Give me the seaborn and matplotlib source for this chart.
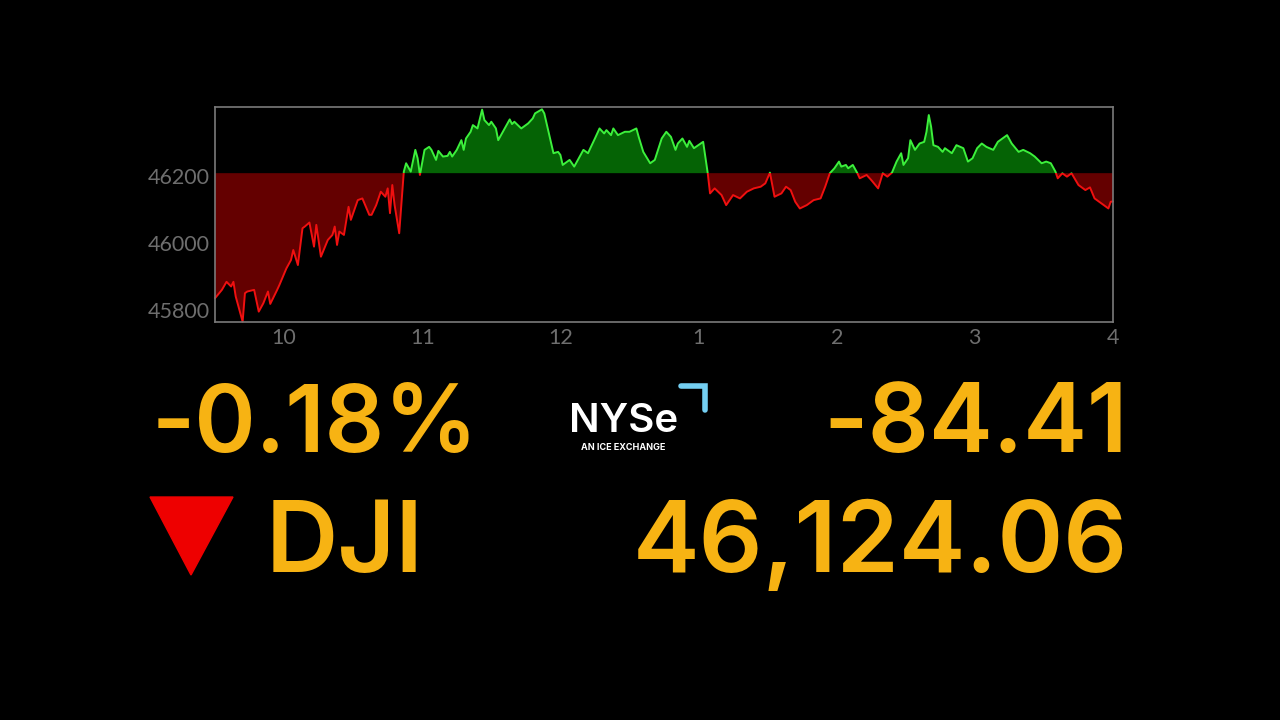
import numpy as np
import pandas as pd
import seaborn as sns
import matplotlib.pyplot as plt
from matplotlib.patches import Rectangle, Polygon

# minutes after 9:30 open, DJI level
minutes = [0, 3, 5, 7, 8, 9, 12, 13, 14, 17, 19, 21, 23, 24, 27, 28, 31, 33, 34, 36,
           38, 39, 41, 43, 44, 46, 49, 51, 52, 53, 54, 56, 58, 59, 62, 64, 67, 68, 70, 72,
           74, 75, 76, 77, 78, 80,
           82, 83, 85, 87, 88, 89, 91, 93, 94, 96, 97, 99, 101, 102, 103, 105, 107, 108, 109,
           111, 112, 114, 116, 117, 119, 120, 122, 123, 125, 128, 129, 130, 133, 136, 138,
           139, 142, 143, 144, 147, 149, 150, 151, 154, 156, 158, 160, 162, 163, 165, 167,
           169, 170, 172, 173, 175, 178, 180, 183, 184, 186, 189, 191, 194, 196, 198, 200,
           201, 203, 205, 206, 208, 212,
           214, 215, 217, 220, 222, 225, 228, 231, 234, 237, 239, 241, 243, 246, 248, 250,
           252, 254, 257, 260, 263, 265, 267, 269, 271, 272, 274, 275, 277, 279, 280, 283,
           285, 288, 290, 292, 294, 296, 298, 299, 301, 302, 304, 306, 308, 309, 310, 311,
           312, 314, 316, 317, 320, 322, 325, 327, 329, 331, 333, 335, 338, 340, 342, 344,
           346, 349, 351, 354, 356, 359, 361, 363, 365, 366, 368, 370, 372, 375, 378, 380,
           382, 385, 388, 389, 390]
prices = [45835, 45860, 45884, 45870, 45884, 45840, 45765, 45850, 45855, 45860, 45795, 45820,
          45855, 45818, 45860, 45875, 45924, 45949, 45979, 45934, 46044, 46049, 46061, 45989,
          46054, 45959, 46009, 46024, 46049, 45994, 46034, 46024, 46108, 46069, 46128, 46133,
          46084, 46084, 46113, 46153, 46138, 46163, 46089, 46173, 46113, 46029,
          46213, 46238, 46213, 46278, 46253, 46203, 46278, 46287, 46278, 46248, 46275, 46258,
          46260, 46272, 46258, 46278, 46307, 46278, 46312, 46332, 46352, 46342, 46398, 46367,
          46352, 46362, 46342, 46307, 46332, 46369, 46355, 46362, 46342, 46357, 46372, 46387,
          46399, 46387, 46357, 46268, 46272, 46263, 46233, 46248, 46228, 46253, 46278, 46268,
          46283, 46312, 46342, 46327, 46337, 46322, 46342, 46322, 46332, 46332, 46342, 46317,
          46272, 46238, 46248, 46312, 46332, 46317, 46278, 46297, 46312, 46287, 46305, 46283,
          46302,
          46208, 46148, 46163, 46143, 46113, 46143, 46133, 46153, 46163, 46168, 46178, 46210,
          46138, 46148, 46168, 46158, 46123, 46103, 46113, 46128, 46133, 46168, 46208, 46223,
          46243, 46228, 46233, 46223, 46233, 46208, 46193, 46203, 46188, 46163, 46208, 46198,
          46210, 46243, 46268, 46233, 46253, 46307, 46278, 46297, 46302, 46332, 46382, 46347,
          46292, 46287, 46272, 46283, 46268, 46292, 46283, 46243, 46253, 46283, 46297, 46287,
          46278, 46302, 46312, 46322, 46297, 46272, 46278, 46268, 46258, 46238, 46243, 46238,
          46213, 46193, 46208, 46198, 46208, 46173, 46158, 46166, 46133, 46118, 46103, 46123,
          46124]
prev_close = 46208.47
hour_ticks = [30, 90, 150, 210, 270, 330, 390]
hour_labels = ["10", "11", "12", "1", "2", "3", "4"]
price_ticks = [45800, 46000, 46200]

pct_change = "-0.18%"
pt_change = "-84.41"
symbol = "DJI"
last_price = "46,124.06"

df = pd.DataFrame({"minute": minutes, "price": prices})

sns.set_style("dark")
plt.rcParams["font.family"] = ["Lato", "DejaVu Sans"]

fig = plt.figure(figsize=(12.8, 7.2), dpi=100, facecolor="black")
ax = fig.add_axes([215 / 1280, 1 - 322 / 720, 898 / 1280, 215 / 720])
ax.set_facecolor("black")

# shaded areas against previous close
ax.fill_between(df["minute"], df["price"], prev_close, where=df["price"] >= prev_close,
                interpolate=True, color="#056305", linewidth=0)
ax.fill_between(df["minute"], df["price"], prev_close, where=df["price"] <= prev_close,
                interpolate=True, color="#640000", linewidth=0)

# line drawn twice, clipped above / below the baseline
sns.lineplot(data=df, x="minute", y="price", ax=ax, color="#3cf03c", linewidth=1.4)
up_line = ax.lines[-1]
sns.lineplot(data=df, x="minute", y="price", ax=ax, color="#f01010", linewidth=1.4)
down_line = ax.lines[-1]
up_line.set_clip_path(Rectangle((-10, prev_close), 420, 2000, transform=ax.transData))
down_line.set_clip_path(Rectangle((-10, prev_close - 2000), 420, 2000, transform=ax.transData))

ax.set_xlim(0, 390)
ax.set_ylim(45764, 46406)
ax.set_xticks(hour_ticks, hour_labels)
ax.set_yticks(price_ticks, [str(p) for p in price_ticks])
ax.tick_params(colors="#6e6e6e", labelsize=15.5, length=0, pad=4)
ax.set_xlabel("")
ax.set_ylabel("")
ax.grid(False)
for s in ax.spines.values():
    s.set_visible(True)
    s.set_color("#7a7a7a")
    s.set_linewidth(1.2)

gold = "#f7b313"
big = ["Inter", "DejaVu Sans"]
fig.text(152 / 1280, 1 - 452 / 720, pct_change, color=gold, fontsize=67, family=big,
         ha="left", va="baseline", fontweight="semibold")
fig.text(1128 / 1280, 1 - 452 / 720, pt_change, color=gold, fontsize=69, family=big,
         ha="right", va="baseline", fontweight="semibold")
fig.text(266 / 1280, 1 - 572 / 720, symbol, color=gold, fontsize=72, family=big,
         ha="left", va="baseline", fontweight="semibold")
fig.text(1128 / 1280, 1 - 572 / 720, last_price, color=gold, fontsize=72, family=big,
         ha="right", va="baseline", fontweight="semibold")

# down arrow
fig.patches.append(Polygon([[150 / 1280, 1 - 497 / 720], [233 / 1280, 1 - 497 / 720],
                            [191 / 1280, 1 - 575 / 720]], closed=True,
                           transform=fig.transFigure, color="#ee0000"))

# NYSE mark
logo = ["Inter", "DejaVu Sans"]
fig.text(624 / 1280, 1 - 432 / 720, "NYSe", color="white", fontsize=29, family=logo,
         ha="center", va="baseline", fontweight="semibold")
fig.text(623 / 1280, 1 - 450 / 720, "AN ICE EXCHANGE", color="white", fontsize=6.5,
         family=logo, ha="center", va="baseline", fontweight="bold")
fig.lines.append(plt.Line2D([681 / 1280, 705 / 1280, 705 / 1280],
                            [1 - 386 / 720, 1 - 386 / 720, 1 - 410 / 720],
                            transform=fig.transFigure, color="#74cff2", linewidth=4,
                            solid_joinstyle="miter"))

fig.savefig("out.png", dpi=100, facecolor="black")
